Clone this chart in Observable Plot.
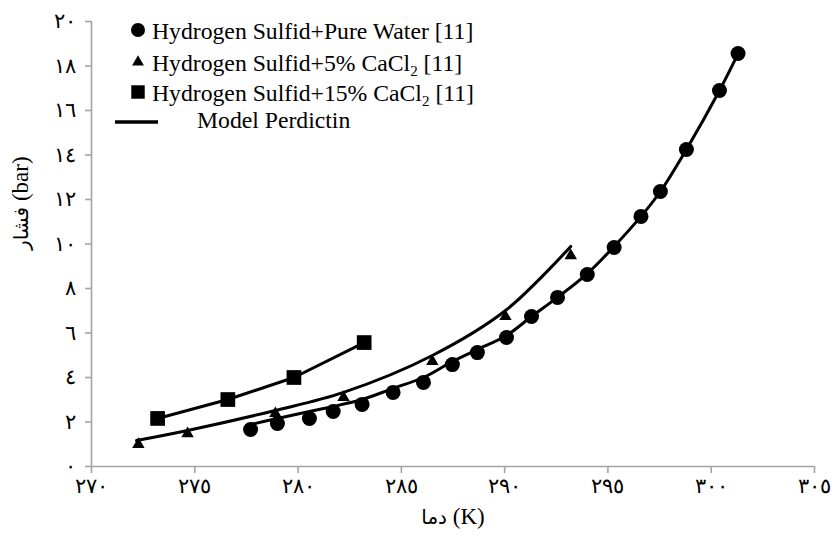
<!DOCTYPE html>
<html><head><meta charset="utf-8">
<script src="https://cdn.jsdelivr.net/npm/d3@7"></script>
<script src="https://cdn.jsdelivr.net/npm/@observablehq/plot@0.6"></script>
<style>body{margin:0;background:#fff;}</style>
</head><body><div id="chart"></div>
<script>
// Experimental data (temperature K, pressure bar)
const waterT = [277.7, 279.0, 280.55, 281.7, 283.1, 284.6, 286.07, 287.47, 288.68, 290.09, 291.3, 292.56, 294.0, 295.3, 296.6, 297.54, 298.8, 300.4, 301.3];
const waterP = [1.66, 1.93, 2.16, 2.47, 2.79, 3.33, 3.78, 4.58, 5.12, 5.80, 6.74, 7.60, 8.63, 9.84, 11.24, 12.36, 14.25, 16.9, 18.56];
const cacl5T = [272.27, 274.65, 278.9, 282.2, 286.5, 290.04, 293.2];
const cacl5P = [0.99, 1.48, 2.38, 3.10, 4.72, 6.74, 9.48];
const cacl15T = [273.2, 276.6, 279.8, 283.2];
const cacl15P = [2.16, 3.01, 4.0, 5.57];
// Model predictions
const modelWaterT = [277.7, 279.0, 280.55, 281.7, 283.1, 284.6, 286.07, 287.47, 288.68, 290.09, 291.3, 292.56, 294.0, 295.3, 296.6, 297.54, 298.8, 300.4, 301.3];
const modelWaterP = [1.89, 2.16, 2.47, 2.70, 3.01, 3.51, 4.0, 4.72, 5.26, 5.89, 6.74, 7.6, 8.67, 9.89, 11.24, 12.36, 14.25, 16.9, 18.56];
const model5T = [272.18, 274.65, 278.9, 282.2, 286.5, 290.04, 293.2];
const model5P = [1.17, 1.62, 2.52, 3.33, 4.99, 7.01, 9.89];
const model15T = [273.2, 276.6, 279.8, 283.2];
const model15P = [2.16, 3.01, 4.0, 5.57];
// Axis ticks and labels
const xTicks = [270, 275, 280, 285, 290, 295, 300, 305];
const xTickLabels = ["٢٧٠", "٢٧٥", "٢٨٠", "٢٨٥", "٢٩٠", "٢٩٥", "٣٠٠", "٣٠٥"];
const yTicks = [0, 2, 4, 6, 8, 10, 12, 14, 16, 18, 20];
const yTickLabels = ["٠", "٢", "٤", "٦", "٨", "١٠", "١٢", "١٤", "١٦", "١٨", "٢٠"];
const xTitle = "دما (K)";
const yTitle = "فشار (bar)";
const legendLabels = [
  ["Hydrogen Sulfid+Pure Water [11]", "", ""],
  ["Hydrogen Sulfid+5% CaCl", "2", " [11]"],
  ["Hydrogen Sulfid+15% CaCl", "2", " [11]"]
];
const modelLabel = "Model Perdictin";

const zip = (T, P) => T.map((t, i) => ({T: t, P: P[i]}));
const water = zip(waterT, waterP), c5 = zip(cacl5T, cacl5P), c15 = zip(cacl15T, cacl15P);
const mW = zip(modelWaterT, modelWaterP), m5 = zip(model5T, model5P), m15 = zip(model15T, model15P);
const xLab = new Map(xTicks.map((t, i) => [t, xTickLabels[i]]));
const yLab = new Map(yTicks.map((t, i) => [t, yTickLabels[i]]));
const serif = "Liberation Serif, DejaVu Serif, serif";
const axisGray = "#a3a3a3";

const chart = Plot.plot({
  width: 839, height: 539,
  marginLeft: 91, marginRight: 25, marginTop: 21, marginBottom: 73,
  style: {fontFamily: serif, fontSize: "20px", background: "#fff", color: "#000"},
  x: {domain: [270, 305]},
  y: {domain: [0, 20]},
  marks: [
    Plot.ruleX([270], {stroke: axisGray, strokeWidth: 1.6}),
    Plot.ruleY([0], {stroke: axisGray, strokeWidth: 1.6}),
    Plot.axisX({ticks: xTicks, tickFormat: d => xLab.get(d), tickSize: 7, tickPadding: 5, stroke: axisGray, strokeWidth: 1.6, fill: "#000", label: null, fontSize: 21}),
    Plot.axisY({ticks: yTicks, tickFormat: d => yLab.get(d), tickSize: 6, tickPadding: 10, stroke: axisGray, strokeWidth: 1.6, fill: "#000", label: null, fontSize: 21}),
    Plot.line(mW, {x: "T", y: "P", curve: "catmull-rom", stroke: "#000", strokeWidth: 3}),
    Plot.line(m5, {x: "T", y: "P", curve: "catmull-rom", stroke: "#000", strokeWidth: 3}),
    Plot.line(m15, {x: "T", y: "P", curve: "linear", stroke: "#000", strokeWidth: 3}),
    Plot.dot(water, {x: "T", y: "P", symbol: "circle", r: 7.5, fill: "#000", stroke: "none"}),
    Plot.dot(c5, {x: "T", y: "P", symbol: "triangle", r: 4.6, fill: "#000", stroke: "none"}),
    Plot.dot(c15, {x: "T", y: "P", symbol: "square", r: 8.3, fill: "#000", stroke: "none"}),
    Plot.text([xTitle], {frameAnchor: "bottom", text: d => d, dy: 57, fontSize: 23, fill: "#000"}),
    Plot.text([yTitle], {frameAnchor: "left", text: d => d, rotate: -90, dx: -71, dy: 6, fontSize: 23, fill: "#000"})
  ]
});
document.getElementById("chart").appendChild(chart);
const svg = d3.select(chart);
svg.selectAll("text").style("font-family", serif);
// split mixed-script titles so the Latin part keeps the serif face
svg.selectAll("text").filter(function() { return this.textContent === xTitle || this.textContent === yTitle; })
  .each(function() {
    const s = this.textContent;
    const k = s.indexOf(" ");
    const el = d3.select(this).text("");
    el.append("tspan").style("font-family", "DejaVu Sans, sans-serif").style("font-size", "20px").text(s.slice(0, k));
    el.append("tspan").style("font-family", serif).text(s.slice(k));
  });

// Legend
const lg = svg.append("g").style("font-family", serif).style("font-size", "23.7px").attr("fill", "#000").attr("text-anchor", "start");
const rowsY = [30, 62, 92];
const symbols = [d3.symbolCircle, d3.symbolTriangle, d3.symbolSquare];
const symSizes = [Math.PI * 7 * 7, Math.PI * 4.4 * 4.4, Math.PI * 7.6 * 7.6];
legendLabels.forEach((lab, i) => {
  lg.append("path").attr("d", d3.symbol(symbols[i], symSizes[i])()).attr("transform", `translate(138,${rowsY[i]})`).attr("fill", "#000");
  const t = lg.append("text").attr("x", 152).attr("y", rowsY[i]).attr("dy", "0.36em");
  t.append("tspan").text(lab[0]);
  if (lab[1]) {
    t.append("tspan").attr("dy", 5).style("font-size", "15px").text(lab[1]);
    t.append("tspan").attr("dy", -5).text(lab[2]);
  }
});
lg.append("line").attr("x1", 115).attr("x2", 158).attr("y1", 122).attr("y2", 122).attr("stroke", "#000").attr("stroke-width", 3.5);
lg.append("text").attr("x", 197).attr("y", 119).attr("dy", "0.36em").text(modelLabel);
</script>
</body></html>
